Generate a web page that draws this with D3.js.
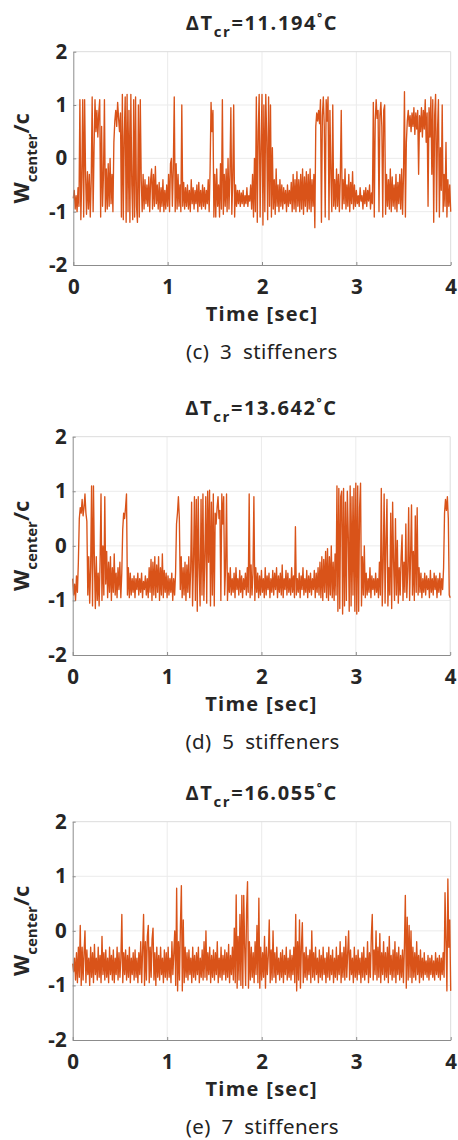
<!DOCTYPE html>
<html><head><meta charset="utf-8">
<script src="https://cdn.jsdelivr.net/npm/d3@7"></script>
<style>body{margin:0;background:#fff}</style>
</head><body>
<svg id="c" width="458" height="1140"></svg>
<script>
// ---- data ----
const timeStep = 0.01; // seconds between samples
const xTicks = [0, 1, 2, 3, 4];
const yTicks = [-2, -1, 0, 1, 2];
const titleValues = ["11.194", "13.642", "16.055"];
const captions = ["(c) 3 stiffeners", "(d) 5 stiffeners", "(e) 7 stiffeners"];

// W_center/c, 3 stiffeners
const w3 = [
-0.75,-0.6,-0.95,-0.7,-1.0,-0.55,-0.9,1.1,-1.15,-0.35,
1.1,-1.1,1.1,-0.3,-1.05,-0.25,-0.95,-0.3,-1.1,-0.4,
1.15,-1.0,0.2,1.1,0.5,0.9,0.4,0.85,1.1,-1.1,
0.6,-0.9,-0.3,1.1,-1.0,-0.2,-0.95,-0.1,-0.9,0.0,
-0.85,-0.3,-1.0,0.3,0.7,0.9,0.6,1.05,0.75,0.5,
0.85,-1.1,1.2,-1.15,0.4,1.15,-1.2,1.2,-1.0,0.9,
-1.2,1.2,-0.5,-1.15,1.1,-1.1,1.15,-0.9,-1.2,1.0,
-1.1,1.1,-0.4,-1.0,-0.3,-0.95,-0.4,-0.85,-0.5,-0.9,
-0.35,-1.0,-0.4,-0.2,-0.95,-0.3,-0.9,-0.15,-0.85,-0.5,
-0.95,-0.45,-1.0,-0.55,-0.9,-0.4,-1.0,-0.6,-0.95,-0.5,
-0.9,-0.3,-1.0,-0.1,0.0,-0.9,-0.2,1.15,-1.0,-0.1,
-0.95,-0.3,-0.9,-0.5,-1.0,1.0,-0.9,-0.45,-0.95,-0.55,
-0.9,-0.5,-0.95,-0.6,-1.0,-0.4,-0.85,-0.55,-0.95,-0.6,
-0.85,-0.5,-1.0,-0.45,-0.9,-0.6,-0.95,-0.5,-0.9,-0.55,
-0.95,-0.6,-0.85,-0.4,-1.0,-0.2,1.05,0.5,0.9,-1.1,
-0.3,-1.1,-0.2,-0.9,-0.5,-1.1,-0.1,-0.95,1.1,-1.05,
-0.3,-0.9,-0.2,-1.0,0.0,-0.95,-0.3,0.95,-1.05,-0.4,
1.0,-1.1,-0.5,-0.9,-0.6,-0.85,-0.6,-0.9,-0.65,-0.85,
-0.6,-0.9,-0.7,-0.85,-0.55,-0.9,-0.7,-0.8,-0.5,-0.95,
-0.3,-1.1,0.0,-1.0,1.15,-1.2,0.5,1.2,-1.1,0.2,
1.2,-1.25,1.0,-1.0,1.2,0.4,-1.15,1.15,-0.9,1.0,
-1.1,0.2,-0.95,-0.4,-1.05,-0.2,-0.9,-0.5,-1.0,-0.4,
-0.9,-0.5,-0.95,-0.55,-0.85,-0.6,-1.0,-0.5,-0.9,-0.6,
-0.85,-0.45,-1.0,-0.3,-0.95,-0.4,-1.0,-0.25,-0.9,-0.4,
-1.0,-0.3,-0.95,-0.2,-1.05,-0.35,-0.9,-0.25,-1.0,-0.3,
-0.95,-0.2,-1.0,-0.4,-0.9,-0.3,-1.3,0.6,0.85,0.7,
0.9,0.65,1.1,-1.2,0.8,1.15,0.6,-1.1,1.1,0.7,
1.15,-1.15,0.9,-0.3,-1.0,1.0,-0.9,-0.4,-0.95,-0.2,
-0.9,-0.3,-1.0,-0.35,0.9,-0.95,-0.4,-0.85,-0.2,-0.95,
-0.5,-0.9,-0.3,-1.0,-0.45,-0.85,-0.25,-0.95,-0.5,-0.9,
-0.6,-0.85,-0.7,-0.9,-0.55,-0.8,-0.7,-0.95,-0.6,-0.85,
-0.55,-0.9,-0.6,-0.8,-0.5,-0.95,-0.65,-0.85,1.05,-1.1,
0.7,1.1,0.75,0.9,-1.0,0.8,1.05,0.6,-1.1,0.9,
1.0,-1.05,-0.3,-0.9,-0.4,-0.95,-0.2,-1.0,-0.35,-0.9,
-0.5,-0.95,-0.3,-1.0,-0.45,-0.85,-0.3,-0.95,-0.2,-1.05,
-0.3,1.25,-1.1,0.3,0.7,0.9,0.6,0.8,0.5,0.85,
0.6,0.95,0.45,0.85,0.55,0.9,-0.3,0.8,0.5,0.95,
0.4,0.9,0.55,1.1,0.3,0.85,-0.9,0.95,0.4,1.15,
-0.3,1.1,-1.2,0.8,1.2,-1.0,0.5,1.1,-1.1,0.2,
-0.6,1.0,-1.0,-0.3,-0.9,0.3,-1.1,-0.4,-0.9,-0.5,
-1.0
];

// W_center/c, 5 stiffeners
const w5 = [
-0.6,-0.9,-0.7,-1.0,-0.55,-0.85,-0.3,0.5,0.7,0.6,
0.85,0.55,0.7,0.95,0.6,0.45,-0.9,-0.2,-1.05,-0.4,
1.1,-1.1,1.1,-0.3,-1.15,-0.2,-1.0,-0.5,-1.1,-0.3,
0.95,-1.0,0.0,-0.9,0.9,-0.7,-0.1,-0.95,-0.3,-0.85,
-0.2,-1.0,-0.4,-0.85,-0.15,-0.9,-0.5,-0.95,-0.4,-0.8,
-0.3,-0.95,-0.5,0.3,0.6,0.5,0.7,0.95,-0.9,-0.4,
-0.95,-0.5,-0.9,-0.6,-0.85,-0.55,-0.95,-0.6,-0.8,-0.5,
-0.9,-0.6,-0.85,-0.5,-0.95,-0.65,-0.8,-0.55,-0.9,-0.6,
-0.95,-0.4,-0.85,-0.25,-1.0,-0.3,-0.9,-0.2,-0.95,-0.35,
-0.85,-0.2,-1.0,-0.4,-0.9,-0.15,-0.95,-0.45,-0.85,-0.5,
-0.95,-0.55,-0.9,-0.6,-0.85,-0.5,-1.0,-0.6,-0.9,-0.5,
0.4,0.6,0.9,0.5,-0.8,-0.2,-0.95,-0.4,-0.9,-0.3,
-1.0,-0.35,-0.85,-0.2,-0.95,-0.45,0.8,-1.1,-0.3,0.9,
-1.0,0.85,-1.2,0.9,-0.4,-1.1,0.85,-0.9,0.95,-1.0,
-0.2,0.9,-1.05,1.0,-0.3,1.02,-1.1,0.8,-0.9,0.95,
-1.1,0.6,0.4,0.7,0.9,0.5,0.65,-1.0,0.95,0.4,
0.9,-0.9,-0.4,0.95,-1.0,-0.5,-0.85,-0.4,-0.9,-0.6,
-0.85,-0.5,-0.95,-0.4,-0.8,-0.6,-0.9,-0.45,-0.85,-0.55,
-0.95,-0.6,-0.8,-0.5,-0.9,-0.4,-0.85,0.95,-0.95,-0.35,
-0.9,-0.5,0.9,-1.0,-0.4,-0.85,-0.5,-0.95,-0.55,-0.9,
-0.45,-0.85,-0.6,-0.95,-0.4,-0.9,-0.55,-0.8,-0.5,-0.95,
-0.6,-0.85,-0.45,-0.9,-0.5,-0.8,-0.4,-0.95,-0.55,-0.85,
-0.5,-0.9,-0.35,-0.95,-0.6,-0.8,-0.45,-0.9,-0.5,-0.85,
-0.6,-0.9,-0.4,-0.85,-0.55,-0.95,0.35,-0.9,-0.6,-0.85,
-0.5,-0.95,-0.55,-0.8,-0.4,-0.9,-0.6,-0.85,-0.45,-0.95,
-0.55,-0.85,-0.5,-0.9,-0.6,-0.8,-0.45,-0.95,-0.5,-0.85,
-0.4,-0.9,-0.3,-0.95,-0.2,-1.0,-0.25,-0.85,-0.1,-0.95,
-0.05,-1.0,-0.2,-0.9,0.0,-0.95,-0.3,-1.0,-0.15,-0.9,
1.1,-1.2,1.05,-1.15,0.9,1.0,-1.25,1.05,-1.1,0.8,
-1.0,1.0,0.2,-1.2,1.1,-1.1,0.9,-0.9,1.05,-1.2,
1.15,-1.25,1.1,-1.2,0.7,1.15,-1.1,-0.2,-0.9,0.0,
-0.95,-0.5,-0.9,-0.6,-0.85,-0.4,-0.95,-0.55,-0.8,-0.6,
-0.9,-0.5,-0.85,-0.6,-0.95,-0.3,-0.9,1.05,-1.1,-0.3,
0.95,-1.05,0.1,0.85,-1.1,-0.4,-0.9,0.6,-1.15,0.8,
-0.3,-1.0,0.5,-0.9,0.1,-1.05,-0.4,-0.9,-0.2,0.2,
-1.0,-0.3,-0.85,0.4,-0.95,-0.45,0.7,-1.0,-0.2,0.75,
-0.9,-0.1,-1.0,0.55,-0.85,0.7,-0.9,-0.4,-0.85,-0.5,
-0.95,-0.6,-0.85,-0.5,-0.9,-0.55,-0.8,-0.6,-0.95,-0.45,
-0.85,-0.6,-0.9,-0.5,-0.8,-0.55,-0.95,-0.6,-0.85,-0.5,
-0.9,-0.6,-0.8,-0.4,0.6,0.85,0.65,0.9,0.5,-0.9,
-0.95
];

// W_center/c, 7 stiffeners
const w7 = [
-0.6,-0.75,-0.5,-0.9,-0.4,-0.95,-0.3,-0.85,0.1,-1.0,
-0.3,-0.9,-0.4,0.0,-0.95,-0.35,-0.8,-0.5,-1.0,-0.3,
-0.85,-0.4,-0.95,-0.25,-0.8,-0.5,-0.9,-0.3,-0.85,-0.45,
-0.95,-0.1,-0.8,-0.4,-0.9,-0.35,-0.85,-0.5,-0.95,-0.3,
-0.8,-0.45,-0.9,-0.35,-0.95,-0.5,-0.8,-0.3,-0.9,-0.4,
-0.85,-0.5,0.3,-0.95,-0.4,-0.8,-0.35,-0.9,-0.45,-0.85,
-0.3,-0.95,-0.5,-0.8,-0.4,-0.9,-0.35,-0.85,-0.5,-0.95,
-0.4,-0.8,-0.2,-0.95,-0.35,0.3,-1.0,-0.2,-0.9,-0.1,
0.1,-0.95,-0.3,-0.85,-0.15,0.05,-0.9,-0.4,-1.0,-0.3,
-0.85,-0.45,-0.9,-0.3,-0.8,-0.5,-0.95,-0.35,-0.85,-0.4,
-0.9,-0.3,-0.85,-0.5,-0.95,-0.2,-0.8,-0.4,0.0,-1.0,
0.78,-1.1,-0.2,-0.9,0.1,0.83,-1.1,0.2,-0.95,-0.3,
-0.85,-0.4,-0.9,-0.35,-0.8,-0.5,-0.95,-0.3,-0.85,-0.45,
-0.9,-0.4,-0.8,-0.3,-0.95,-0.5,-0.85,-0.35,-0.9,-0.2,
-0.85,0.0,-0.9,-0.4,-0.8,-0.3,-0.95,-0.45,-0.85,-0.35,
-0.9,-0.4,-0.8,-0.2,-0.95,-0.5,-0.85,-0.3,-0.9,-0.45,
-0.8,-0.35,-0.9,-0.4,-0.85,-0.25,-0.95,-0.45,-0.8,-0.3,
-0.9,0.05,-0.95,0.66,-1.05,-0.1,-0.9,0.3,-1.0,0.65,
-1.05,0.65,-0.3,-1.0,0.4,0.9,-1.05,-0.2,-0.9,-0.3,
-0.85,-0.4,-0.95,-0.2,-0.8,0.1,-0.95,0.6,-1.05,-0.3,
-0.9,-0.4,-0.85,-0.1,-1.05,-0.3,-0.8,-0.45,0.2,-0.95,
-0.35,-0.9,0.0,-0.85,-0.4,-0.95,-0.3,-0.8,-0.5,-0.9,
-0.4,-0.85,-0.35,-0.95,-0.45,-0.8,-0.3,-0.9,-0.5,-0.85,
-0.35,-0.9,-0.45,-0.8,-0.3,-0.95,0.3,-1.1,-0.2,-0.9,
0.2,-1.05,-0.3,0.15,-0.95,-0.4,-0.85,-0.3,-0.9,-0.45,
-0.8,-0.35,-0.95,0.0,-0.85,-0.4,-0.9,-0.3,-0.8,-0.5,
-0.95,-0.35,-0.85,-0.45,-0.9,-0.3,-0.8,-0.5,-0.95,-0.4,
-0.85,-0.3,-0.9,-0.45,-0.8,-0.35,-0.95,-0.5,-0.85,-0.3,
-0.9,-0.45,-0.8,-0.2,-0.95,-0.4,-0.85,-0.3,-0.9,-0.1,
-0.85,-0.4,0.0,-0.9,-0.35,-0.8,-0.5,-0.95,-0.3,-0.85,
-0.45,-0.9,-0.35,-0.8,-0.5,-0.95,-0.4,-0.85,-0.3,-0.9,
-0.5,-0.8,-0.2,-0.95,-0.4,-0.85,-0.1,0.3,-0.9,-0.35,
-0.8,0.0,-0.9,-0.3,-0.85,-0.05,-0.95,-0.4,-0.8,-0.2,
-0.9,-0.4,-0.85,-0.3,-0.95,-0.1,-0.8,-0.45,-0.9,-0.35,
-0.85,-0.2,-0.95,-0.4,-0.8,-0.3,-0.9,-0.45,-0.85,-0.35,
-0.95,-0.3,0.65,-1.05,0.25,-0.9,0.1,-0.85,0.0,-0.95,
-0.3,-0.85,-0.4,-0.9,-0.2,-0.8,-0.45,-0.95,-0.35,-0.85,
-0.5,-0.9,-0.4,-0.8,-0.55,-0.85,-0.45,-0.9,-0.5,-0.8,
-0.45,-0.85,-0.55,-0.9,-0.4,-0.8,-0.5,-0.85,-0.45,-0.9,
-0.5,-0.8,-0.4,-0.85,0.7,-0.2,-1.1,0.95,-0.3,0.2,
-1.1
];

const series = [w3, w5, w7];

// ---- layout ----
const panels = [
  {top: 51.7, bottom: 265, left: 73.3, right: 450.7},
  {top: 436.7, bottom: 655, left: 72.7, right: 450.2},
  {top: 821.7, bottom: 1040, left: 72.7, right: 450.7}
];
const FONT = "'Open Sans', 'Noto Sans', sans-serif";
const LINE = "#D95319";
const svg = d3.select("#c");

panels.forEach((p, i) => {
  const data = series[i];
  const x = d3.scaleLinear().domain([0, 4]).range([p.left, p.right]);
  const y = d3.scaleLinear().domain([-2, 2]).range([p.bottom, p.top]);
  const g = svg.append("g");

  // grid
  g.selectAll(".gx").data(xTicks.slice(1, -1)).join("line")
    .attr("x1", d => x(d)).attr("x2", d => x(d))
    .attr("y1", p.top).attr("y2", p.bottom)
    .attr("stroke", "#ebebeb").attr("stroke-width", 1);
  g.selectAll(".gy").data(yTicks.slice(1, -1)).join("line")
    .attr("x1", p.left).attr("x2", p.right)
    .attr("y1", d => y(d)).attr("y2", d => y(d))
    .attr("stroke", "#ebebeb").attr("stroke-width", 1);
  // box top/right
  g.append("line").attr("x1", p.left).attr("x2", p.right).attr("y1", p.top).attr("y2", p.top)
    .attr("stroke", "#dcdcdc");
  g.append("line").attr("x1", p.right).attr("x2", p.right).attr("y1", p.top).attr("y2", p.bottom)
    .attr("stroke", "#dcdcdc");

  // data line
  const line = d3.line().x((d, k) => x(k * timeStep)).y(d => y(d));
  g.append("path").datum(data)
    .attr("d", line)
    .attr("fill", "none")
    .attr("stroke", LINE)
    .attr("stroke-width", 1.35)
    .attr("stroke-linejoin", "round");

  // axes
  const ax = g.append("g").attr("transform", `translate(0,${p.bottom})`)
    .call(d3.axisBottom(x).tickValues(xTicks).tickFormat(d3.format("d"))
      .tickSizeInner(-3).tickSizeOuter(0).tickPadding(14));
  const ay = g.append("g").attr("transform", `translate(${p.left},0)`)
    .call(d3.axisLeft(y).tickValues(yTicks).tickFormat(d3.format("d"))
      .tickSizeInner(-3).tickSizeOuter(0).tickPadding(6));
  [ax, ay].forEach(a => {
    a.select(".domain").attr("stroke", "#8c8c8c");
    a.selectAll(".tick line").attr("stroke", "#8c8c8c");
    a.selectAll("text").attr("fill", "#262626")
      .style("font-family", FONT).style("font-size", "20.5px").style("font-weight", "700");
  });
  ay.selectAll("text").text(d => d < 0 ? "-" + Math.abs(d) : d);

  const cx = (p.left + p.right) / 2;
  // title
  const tt = g.append("text").attr("x", cx).attr("y", p.top - 21.5)
    .attr("text-anchor", "middle").attr("fill", "#262626")
    .style("font-family", FONT).style("font-size", "20px").style("font-weight", "700")
    .style("letter-spacing", "1.6px");
  tt.append("tspan").text("\u0394T");
  tt.append("tspan").attr("dy", 7).style("font-size", "15px").text("cr");
  tt.append("tspan").attr("dy", -7).text("=" + titleValues[i]);
  tt.append("tspan").attr("dy", -8).style("font-size", "12px").text("\u00B0");
  tt.append("tspan").attr("dy", 8).text("C");

  // x label
  g.append("text").attr("x", cx).attr("y", p.bottom + 55.5)
    .attr("text-anchor", "middle").attr("fill", "#262626")
    .style("font-family", FONT).style("font-size", "20px").style("font-weight", "700")
    .style("letter-spacing", "1.3px")
    .text("Time [sec]");

  // y label
  const yl = g.append("text")
    .attr("transform", `translate(28.5,${(p.top + p.bottom) / 2}) rotate(-90)`)
    .attr("text-anchor", "middle").attr("fill", "#262626")
    .style("font-family", FONT).style("font-size", "22px").style("font-weight", "700");
  yl.append("tspan").text("W");
  yl.append("tspan").attr("dy", 8).style("font-size", "15px").text("center");
  yl.append("tspan").attr("dy", -8).text("/c");

  // caption
  g.append("text").attr("x", cx - 28).attr("y", p.bottom + 94)
    .attr("text-anchor", "start").attr("fill", "#222")
    .style("font-family", "'Noto Sans', sans-serif").style("font-size", "20.5px")
    .style("letter-spacing", "0.4px").style("word-spacing", "5px")
    .attr("x", cx - 76)
    .text(captions[i]);
});
</script>
</body></html>
